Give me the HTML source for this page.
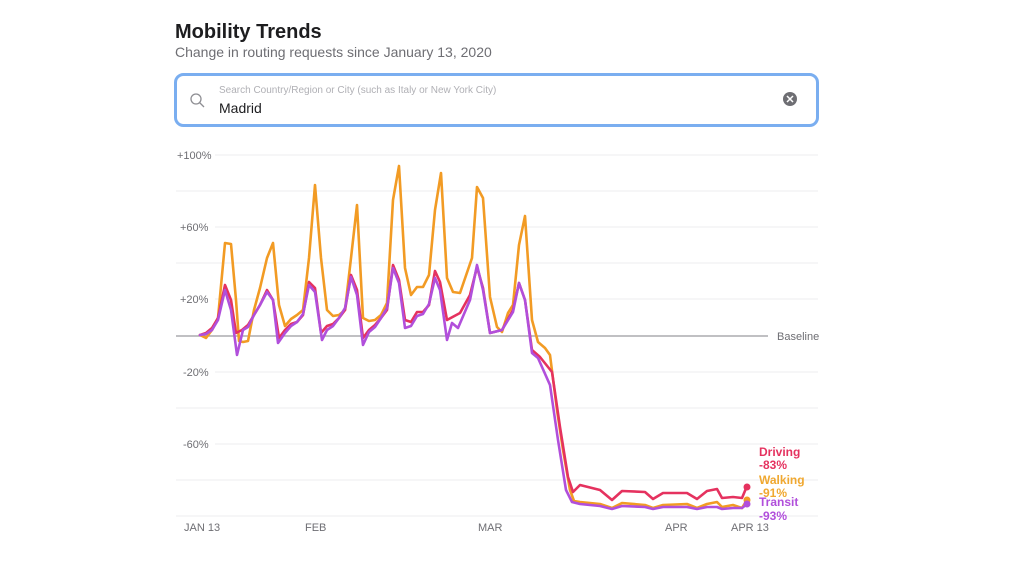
<!DOCTYPE html>
<html><head><meta charset="utf-8"><style>
html,body{margin:0;padding:0;background:#fff;width:1024px;height:576px;overflow:hidden}
svg{display:block}
text{font-family:"Liberation Sans",sans-serif}
</style></head><body>
<svg width="1024" height="576" viewBox="0 0 1024 576">
<text x="175" y="38" font-size="20" font-weight="bold" fill="#1d1d1f">Mobility Trends</text>
<text x="175" y="57" font-size="14" fill="#6e6e73">Change in routing requests since January 13, 2020</text>
<rect x="175.5" y="74.5" width="642" height="51" rx="8" fill="#fff" stroke="#7aaef0" stroke-width="3"/>
<circle cx="196" cy="99" r="5" fill="none" stroke="#8e8e93" stroke-width="1.3"/>
<line x1="199.5" y1="102.5" x2="204" y2="107" stroke="#8e8e93" stroke-width="1.3"/>
<text x="219" y="93" font-size="10" fill="#b0b0b5">Search Country/Region or City (such as Italy or New York City)</text>
<text x="219" y="113" font-size="14" fill="#1d1d1f">Madrid</text>
<circle cx="790" cy="99" r="7" fill="#6e6e73"/>
<path d="M787 96l6 6M793 96l-6 6" stroke="#fff" stroke-width="1.5"/>
<g stroke="#ececef" stroke-width="1">
<line x1="215" y1="155" x2="818" y2="155"/>
<line x1="176" y1="191" x2="818" y2="191"/>
<line x1="215" y1="227" x2="818" y2="227"/>
<line x1="176" y1="263" x2="818" y2="263"/>
<line x1="215" y1="299" x2="818" y2="299"/>
<line x1="215" y1="372" x2="818" y2="372"/>
<line x1="176" y1="408" x2="818" y2="408"/>
<line x1="215" y1="444" x2="818" y2="444"/>
<line x1="176" y1="480" x2="818" y2="480"/>
<line x1="176" y1="516" x2="818" y2="516"/>
</g>
<line x1="176" y1="336" x2="768" y2="336" stroke="#9a9a9f" stroke-width="1.3"/>
<g font-size="11" fill="#6e6e73">
<text x="177" y="159">+100%</text>
<text x="180" y="231">+60%</text>
<text x="180" y="303">+20%</text>
<text x="183" y="376">-20%</text>
<text x="183" y="448">-60%</text>
<text x="777" y="340">Baseline</text>
<text x="184" y="531">JAN 13</text>
<text x="305" y="531">FEB</text>
<text x="478" y="531">MAR</text>
<text x="665" y="531">APR</text>
<text x="731" y="531">APR 13</text>
</g>
<g fill="none" stroke-width="2.6" stroke-linejoin="round" stroke-linecap="round">
<polyline stroke="#f29b24" points="200,335 206,338 212,330 218,318 225,243 231,244 236,300 239,341 243,342 248,341 254,310 260,288 267,258 273,243 279,305 285,326 291,319 297,315 303,310 309,258 315,185 321,258 327,310 333,316 339,315 345,310 351,258 357,205 363,318 369,321 375,320 381,315 387,303 393,200 399,166 405,268 411,295 417,287 423,287 429,275 435,210 441,173 447,278 453,292 460,293 472,258 477,187 483,198 490,297 497,327 502,332 508,313 513,305 519,245 525,216 532,320 538,342 545,348 550,355 557,410 563,450 570,490 574,501 580,502 600,504 612,508 622,503 645,505 653,508 663,505 687,504 697,508 707,504 717,502 722,507 733,505 742,508 747,500"/>
<polyline stroke="#e5325f" points="200,335 206,333 212,328 218,318 225,285 231,300 236,333 242,330 248,325 254,315 260,305 267,290 273,300 279,338 285,330 291,324 297,322 303,315 309,282 315,288 321,333 327,326 333,324 339,318 345,310 351,275 357,290 363,338 369,330 375,325 381,318 387,310 393,265 399,280 405,320 411,322 417,312 423,312 429,305 435,271 440,282 447,320 460,313 470,295 477,267 483,288 490,333 502,330 513,310 519,283 525,300 532,350 540,357 552,372 560,427 568,477 573,492 580,485 600,490 612,500 622,491 645,492 653,499 663,493 687,493 697,499 707,491 717,489 722,498 733,497 742,498 747,486"/>
<polyline stroke="#b14fdb" points="200,335 206,334 212,330 218,320 225,290 231,310 237,355 243,330 248,327 254,315 260,305 267,292 273,300 278,343 285,333 291,326 297,322 303,314 309,285 315,292 322,340 327,330 333,326 339,318 345,308 351,277 357,295 363,345 369,332 375,327 381,318 387,308 393,268 399,283 405,328 411,326 417,316 423,314 429,304 435,278 440,290 447,340 452,323 458,328 470,300 477,265 483,290 490,333 502,330 513,312 519,283 525,300 532,353 538,358 550,385 558,440 566,490 572,502 580,504 600,506 612,509 622,506 645,507 653,509 663,507 687,507 697,509 707,507 717,507 722,509 733,508 742,508 747,504"/>
</g>
<circle cx="747" cy="487" r="3.5" fill="#e5325f"/>
<circle cx="747" cy="500" r="3.5" fill="#f29b24"/>
<circle cx="747" cy="504" r="3.5" fill="#b14fdb"/>
<g font-size="12" font-weight="bold">
<text x="759" y="456" fill="#e5325f">Driving</text>
<text x="759" y="469" fill="#e5325f">-83%</text>
<text x="759" y="484" fill="#f0a830">Walking</text>
<text x="759" y="497" fill="#f0a830">-91%</text>
<text x="759" y="506" fill="#b14fdb">Transit</text>
<text x="759" y="520" fill="#b14fdb">-93%</text>
</g>
</svg>
</body></html>
